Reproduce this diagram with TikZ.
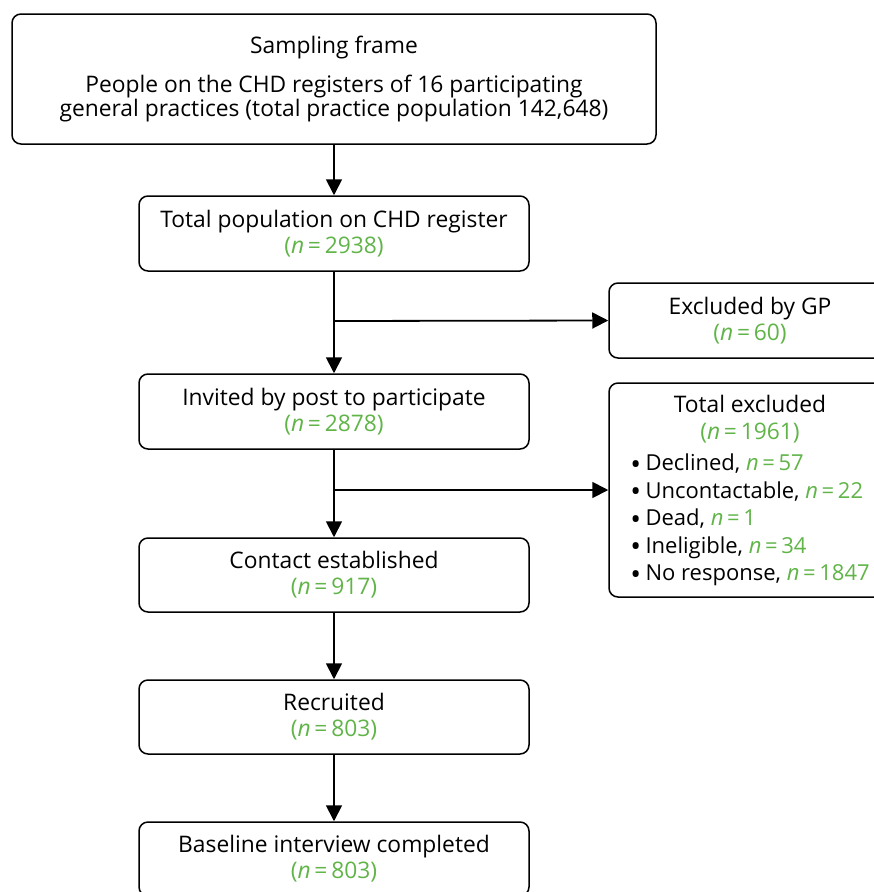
\documentclass[tikz,border=0pt]{standalone}
\usepackage{fontspec}
\setmainfont{Open Sans}
\usetikzlibrary{arrows.meta}
\definecolor{ngreen}{RGB}{96,180,72}
\newcommand{\nn}[1]{\textcolor{ngreen}{{\itshape n}\,=\,#1}}
\newcommand{\pn}[1]{\textcolor{ngreen}{({\itshape n}\,=\,#1)}}
\newcommand{\bul}{\raisebox{-3.5pt}{\scalebox{1.3}{\textbullet}}\hspace{4.5pt}}
\begin{document}
\begin{tikzpicture}[x=1pt,y=-1pt,
  box/.style={draw=black,line width=1.5pt,rounded corners=9pt,align=center,
    font=\fontsize{22.8}{26}\selectfont,inner sep=0pt},
  main/.style={box,minimum width=390pt,minimum height=75pt},
  side/.style={box,minimum width=282pt},
  arr/.style={line width=1.8pt,-{Triangle[width=16pt,length=16pt]}},
  ln/.style={line width=1.8pt}]
\clip (0,0) rectangle (874,892);
\useasboundingbox (0,0) rectangle (874,892);
\node[box,minimum width=644pt,minimum height=130pt,font=\fontsize{22.8}{23.5}\selectfont] (frame) at (334,79)
  {Sampling frame\\[16pt]People on the CHD registers of 16 participating\\general practices (total practice population 142,648)};
\node[main] (tot) at (334,233.5) {Total population on CHD register\\\pn{2938}};
\node[main] (inv) at (334,411.5) {Invited by post to participate\\\pn{2878}};
\node[main,minimum height=74pt] (con) at (334,575) {Contact established\\\pn{917}};
\node[main,minimum height=74pt] (rec) at (334,717) {Recruited\\\pn{803}};
\node[main,minimum height=74pt] (base) at (334,859) {Baseline interview completed\\\pn{803}};
\node[side,minimum height=75pt] (gp) at (750,320.5) {Excluded by GP\\\pn{60}};
\node[side,minimum height=214pt,font=\fontsize{22}{27.5}\selectfont] (exc) at (750,490)
  {\begin{tabular}{@{}l@{}}
   \multicolumn{1}{c}{\fontsize{22.8}{26}\selectfont\raisebox{-2pt}{Total excluded}}\\
   \multicolumn{1}{c}{\fontsize{22.8}{26}\selectfont\raisebox{-1pt}{\pn{1961}}}\\[5pt]
   \bul Declined, \nn{57}\\
   \bul Uncontactable, \nn{22}\\
   \bul Dead, \nn{1}\\
   \bul Ineligible, \nn{34}\\
   \bul No response, \nn{1847}
   \end{tabular}};
\coordinate (b1) at (334,321);
\coordinate (b2) at (334,490);
\draw[arr] (frame.south -| tot.north) -- (tot.north);
\draw[arr] (tot.south) -- (inv.north);
\draw[arr] (b1) -- (gp.west);
\draw[arr] (inv.south) -- (con.north);
\draw[arr] (b2) -- (exc.west);
\draw[arr] (con.south) -- (rec.north);
\draw[arr] (rec.south) -- (base.north);
\end{tikzpicture}
\end{document}
